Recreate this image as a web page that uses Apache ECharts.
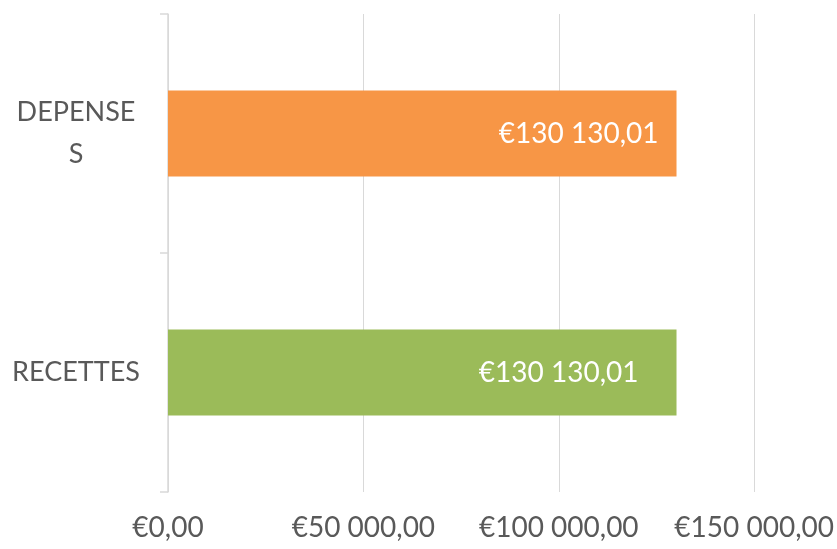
<!DOCTYPE html>
<html>
<head>
    <meta charset="utf-8" />
    <title>Recettes / Dépenses</title>
    <script src="https://cdn.jsdelivr.net/npm/echarts@6/dist/echarts.min.js"></script>
</head>
<body style="margin:0">
    <style>
        #main { width: 837px; height: 549px; }
    </style>
    <div id="main"></div>
    <script type="text/javascript">
        var categories = ['DEPENSE\nS', 'RECETTES'];
        var values = [130130.01, 130130.01];
        var barColors = ['#F79646', '#9BBB59'];
        var labelOffsets = [[-13, 0], [-33, 0]];

        function euro(v) {
            var parts = v.toFixed(2).split('.');
            var intPart = parts[0].replace(/\B(?=(\d{3})+(?!\d))/g, ' ');
            return '€' + intPart + ',' + parts[1];
        }

        var myChart = echarts.init(document.getElementById('main'));
        var option = {
            animation: false,
            textStyle: { fontFamily: 'Lato' },
            grid: { left: 168, right: 81, top: 14, bottom: 57 },
            xAxis: {
                type: 'value',
                min: 0,
                max: 150000,
                interval: 50000,
                axisLine: { show: false },
                axisTick: { show: false },
                splitLine: { lineStyle: { color: '#d9d9d9', width: 1 } },
                axisLabel: {
                    margin: 22,
                    fontSize: 28,
                    color: '#595959',
                    formatter: function (v) { return euro(v); }
                }
            },
            yAxis: {
                type: 'category',
                inverse: true,
                data: categories,
                axisLine: { lineStyle: { color: '#d9d9d9', width: 1.5 } },
                axisTick: { show: true, length: 8, lineStyle: { color: '#d9d9d9', width: 1.5 } },
                axisLabel: {
                    margin: 92,
                    align: 'center',
                    fontSize: 27,
                    lineHeight: 42,
                    color: '#595959'
                }
            },
            series: [{
                type: 'bar',
                barWidth: 86,
                data: values.map(function (v, i) {
                    return {
                        value: v,
                        itemStyle: { color: barColors[i] },
                        label: { offset: labelOffsets[i] }
                    };
                }),
                label: {
                    show: true,
                    position: 'insideRight',
                    fontSize: 28,
                    color: '#ffffff',
                    formatter: function (p) { return euro(p.value); }
                }
            }]
        };
        myChart.setOption(option);
    </script>
</body>
</html>
